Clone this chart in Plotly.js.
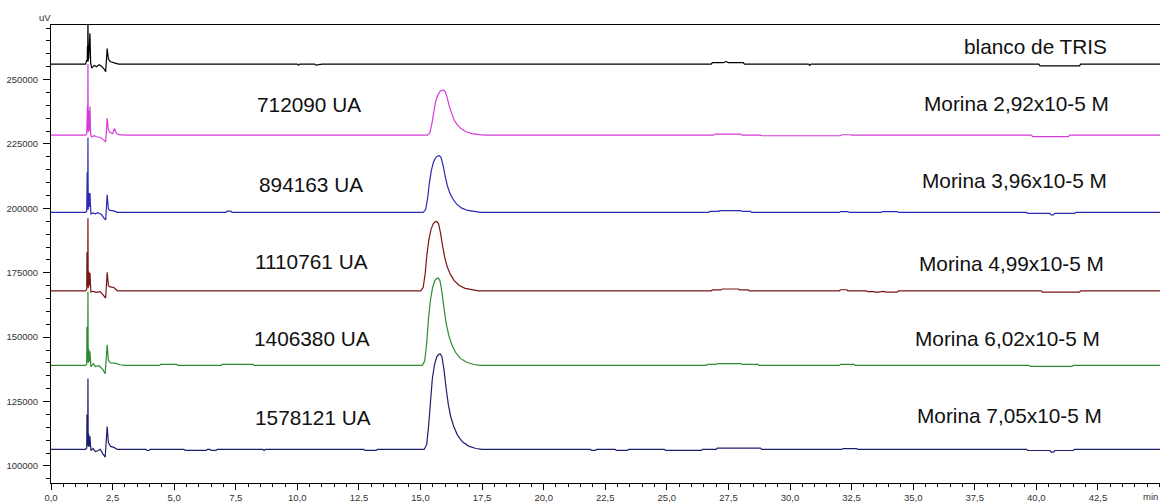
<!DOCTYPE html>
<html>
<head>
<meta charset="utf-8">
<script src="https://cdn.plot.ly/plotly-3.0.1.min.js"></script>
<style>
  html, body { margin: 0; padding: 0; background: #ffffff; }
  #chart { width: 1160px; height: 503px; }
</style>
</head>
<body>
<div id="chart"></div>
<script>
// Chromatograms (signal in uV vs. retention time in min), stacked by run.

// blanco de TRIS
const blancoT = [0, 1.40, 1.45, 1.46, 1.47, 1.48, 1.49, 1.50, 1.51, 1.52,
  1.53, 1.55, 1.58, 1.61, 1.65, 1.75, 1.85, 1.95, 2.05, 2.15,
  2.22, 2.28, 2.33, 2.40, 2.50, 2.60, 2.75, 10.0, 10.05, 10.1,
  10.7, 10.75, 11.0, 26.8, 26.85, 27.3, 27.4, 27.5, 28.1, 28.15,
  30.75, 30.8, 30.85, 40.1, 40.15, 41.75, 41.8, 45.1];
const blancoV = [256000, 256000, 257500, 262000, 257000, 263000, 257500, 275000, 257000, 262000,
  258000, 261000, 268000, 256500, 254500, 255500, 255000, 255800, 255200, 254200,
  253000, 262000, 258000, 257000, 256800, 256400, 256000, 256000, 255600, 256000,
  256000, 255600, 256000, 256000, 256600, 256600, 257000, 256600, 256600, 256000,
  256000, 255500, 256000, 256000, 255300, 255300, 256000, 256000];

// Morina 2,92x10-5 M
const m292T = [0, 1.40, 1.45, 1.46, 1.47, 1.48, 1.49, 1.50, 1.51, 1.53,
  1.55, 1.58, 1.61, 1.65, 1.75, 1.85, 2.00, 2.15, 2.22, 2.28,
  2.33, 2.40, 2.50, 2.58, 2.65, 2.75, 3.0,
  15.28, 15.38, 15.46, 15.53, 15.61, 15.70, 15.79, 15.87, 15.93, 16.00,
  16.08, 16.17, 16.26, 16.36, 16.48, 16.63, 16.83, 17.08, 17.38, 17.63,
  26.9, 26.95, 28.0, 28.05, 28.8, 28.85, 32.05, 32.1, 32.45, 32.5,
  39.8, 39.85, 41.3, 41.35, 45.1];
const m292V = [228430, 228430, 229000, 236000, 229500, 240000, 230000, 256000, 229500, 238000,
  230000, 239500, 228500, 227700, 228200, 227800, 227500, 226500, 225800, 235000,
  230500, 229400, 229000, 231000, 229200, 228600, 228430,
  228430, 229300, 232800, 237510, 241360, 243980, 245380, 245810, 245900, 245380,
  243100, 239610, 236640, 234370, 232620, 231050, 229830, 229040, 228600, 228430,
  228430, 228830, 228830, 228430, 228430, 228180, 228180, 228580, 228580, 228430,
  228430, 227830, 227830, 228430, 228430];

// Morina 3,96x10-5 M
const m396T = [0, 1.40, 1.45, 1.46, 1.47, 1.48, 1.49, 1.50, 1.51, 1.53,
  1.55, 1.58, 1.62, 1.70, 1.80, 1.90, 2.05, 2.15, 2.22, 2.28,
  2.33, 2.40, 2.55, 2.70,
  7.1, 7.15, 7.3, 7.35,
  15.11, 15.21, 15.29, 15.36, 15.44, 15.53, 15.62, 15.70, 15.76, 15.83,
  15.91, 16.00, 16.09, 16.19, 16.31, 16.46, 16.66, 16.91, 17.21, 17.46,
  26.7, 26.75, 27.1, 27.15, 28.0, 28.05, 28.4, 28.45,
  32.0, 32.05, 32.35, 32.4, 33.7, 33.75, 34.35, 34.4,
  39.6, 39.65, 40.55, 40.6, 40.7, 40.75, 41.55, 41.6, 45.1];
const m396V = [198430, 198430, 199000, 206000, 214000, 200000, 199500, 227400, 199500, 206000,
  200500, 206000, 197800, 198200, 197900, 198300, 197600, 196200, 195500, 205300,
  199800, 199200, 199000, 198430,
  198430, 198900, 198900, 198430,
  198430, 199530, 203940, 209890, 214730, 218040, 219800, 220350, 220460, 219800,
  216940, 212530, 208780, 205920, 203720, 201740, 200190, 199200, 198650, 198430,
  198430, 198800, 198800, 199100, 199100, 198800, 198800, 198430,
  198430, 198750, 198750, 198430, 198430, 198750, 198750, 198430,
  198430, 198050, 198050, 197500, 197500, 198050, 198050, 198430, 198430];

// Morina 4,99x10-5 M
const m499T = [0, 1.40, 1.45, 1.46, 1.47, 1.48, 1.49, 1.50, 1.51, 1.53,
  1.55, 1.58, 1.62, 1.70, 1.85, 2.00, 2.15, 2.22, 2.28, 2.33,
  2.40, 2.55, 2.70,
  15.01, 15.11, 15.19, 15.26, 15.34, 15.43, 15.52, 15.60, 15.66, 15.73,
  15.81, 15.90, 15.99, 16.09, 16.21, 16.36, 16.56, 16.81, 17.11, 17.36,
  26.8, 26.85, 27.2, 27.25, 27.9, 27.95, 28.3, 28.35,
  32.0, 32.05, 32.3, 32.35,
  33.1, 33.15, 33.4, 33.5, 33.8, 33.9, 34.35, 34.4,
  40.2, 40.25, 41.75, 41.8, 45.1];
const m499V = [168000, 168000, 168500, 183000, 169000, 175000, 169500, 196200, 169000, 175500,
  170000, 175000, 167500, 167800, 167400, 167700, 166000, 165200, 175200, 170000,
  169500, 169300, 168000,
  168000, 169350, 174730, 181990, 187910, 191940, 194090, 194770, 194900, 194090,
  190600, 185220, 180640, 177150, 174460, 172040, 170150, 168940, 168270, 168000,
  168000, 168350, 168350, 168700, 168700, 168350, 168350, 168000,
  168000, 168400, 168400, 168000,
  168000, 167700, 167700, 167400, 167800, 167500, 167500, 168000,
  168000, 167450, 167450, 168000, 168000];

// Morina 6,02x10-5 M
const m602T = [0, 1.40, 1.45, 1.46, 1.47, 1.48, 1.49, 1.50, 1.51, 1.53,
  1.55, 1.58, 1.62, 1.72, 1.80, 1.95, 2.10, 2.20, 2.28, 2.33,
  2.42, 2.60, 2.80, 3.0,
  4.4, 4.45, 5.1, 5.15, 6.9, 6.95, 8.2, 8.25,
  15.07, 15.17, 15.25, 15.32, 15.40, 15.49, 15.58, 15.66, 15.72, 15.79,
  15.87, 15.96, 16.05, 16.15, 16.27, 16.42, 16.62, 16.87, 17.17, 17.42,
  26.6, 26.65, 27.0, 27.05, 28.0, 28.05, 28.7, 28.75,
  32.0, 32.05, 32.6, 32.65,
  39.7, 39.75, 41.45, 41.5, 45.1];
const m602V = [139050, 139050, 139600, 154000, 140000, 146000, 140500, 167600, 140000, 145500,
  140500, 144500, 138500, 139800, 138600, 138900, 137500, 135800, 147000, 141000,
  140000, 139900, 139300, 139050,
  139050, 139400, 139400, 139050, 139050, 139400, 139400, 139050,
  139050, 140750, 147530, 156680, 164140, 169220, 171930, 172780, 172950, 171930,
  167530, 160750, 154980, 150580, 147190, 144140, 141760, 140240, 139390, 139050,
  139050, 139400, 139400, 139750, 139750, 139400, 139400, 139050,
  139050, 139400, 139400, 139050,
  139050, 138650, 138650, 139050, 139050];

// Morina 7,05x10-5 M
const m705T = [0, 1.40, 1.45, 1.46, 1.47, 1.48, 1.49, 1.50, 1.51, 1.53,
  1.55, 1.58, 1.62, 1.70, 1.80, 1.90, 2.00, 2.10, 2.20, 2.28,
  2.33, 2.42, 2.55, 2.70,
  3.85, 3.9, 3.97, 4.02, 5.4, 5.45, 6.3, 6.35, 6.45, 6.5,
  6.7, 6.75, 8.6, 8.65, 8.7, 12.7, 12.75, 13.2, 13.25,
  15.15, 15.25, 15.33, 15.40, 15.48, 15.57, 15.66, 15.74, 15.80, 15.87,
  15.95, 16.04, 16.13, 16.23, 16.35, 16.50, 16.70, 16.95, 17.25, 17.50,
  21.9, 21.95, 22.1, 22.15, 22.9, 22.95, 23.4, 23.45, 24.9, 24.95, 26.4, 26.45,
  27.0, 27.05, 28.8, 28.85,
  32.1, 32.15, 32.7, 32.75,
  39.6, 39.65, 40.55, 40.6, 40.7, 40.75, 41.5, 41.55, 45.1];
const m705V = [106410, 106410, 107000, 120000, 107500, 113000, 108000, 134000, 107500, 112500,
  107500, 111500, 106000, 106800, 105600, 105900, 106500, 104800, 103400, 115300,
  109000, 107600, 107200, 106410,
  106410, 106000, 106000, 106410, 106410, 106050, 106050, 106410, 106410, 106050,
  106050, 106410, 106410, 106000, 106410, 106410, 106050, 106050, 106410,
  106410, 108270, 115690, 125700, 133860, 139430, 142400, 143330, 143510, 142400,
  137570, 130150, 123850, 119020, 115310, 111980, 109380, 107710, 106780, 106410,
  106410, 106050, 106050, 106410, 106410, 106050, 106050, 106410, 106410, 106050, 106050, 106410,
  106410, 106900, 106900, 106410,
  106410, 106750, 106750, 106410,
  106410, 106000, 106000, 105400, 105400, 106000, 106000, 106410, 106410];

// Run names and integrated peak areas
const runNames = ["blanco de TRIS", "Morina 2,92x10-5 M", "Morina 3,96x10-5 M",
  "Morina 4,99x10-5 M", "Morina 6,02x10-5 M", "Morina 7,05x10-5 M"];
const peakAreas = ["712090 UA", "894163 UA", "1110761 UA", "1406380 UA", "1578121 UA"];

// Axis ticks
const xTickVals = [0, 2.5, 5, 7.5, 10, 12.5, 15, 17.5, 20, 22.5, 25, 27.5, 30, 32.5, 35, 37.5, 40, 42.5];
const xTickText = ["0,0", "2,5", "5,0", "7,5", "10,0", "12,5", "15,0", "17,5", "20,0", "22,5",
  "25,0", "27,5", "30,0", "32,5", "35,0", "37,5", "40,0", "42,5"];
const yTickVals = [100000, 125000, 150000, 175000, 200000, 225000, 250000];
const yTickText = ["100000", "125000", "150000", "175000", "200000", "225000", "250000"];

const series = [
  { t: blancoT, v: blancoV, color: "#000000" },
  { t: m292T, v: m292V, color: "#d63cd6" },
  { t: m396T, v: m396V, color: "#2a2ab4" },
  { t: m499T, v: m499V, color: "#7a1616" },
  { t: m602T, v: m602V, color: "#2f8a2f" },
  { t: m705T, v: m705V, color: "#1e1e6e" }
];

const traces = series.map(s => ({
  type: "scatter",
  mode: "lines",
  x: s.t,
  y: s.v,
  line: { color: s.color, width: 1.2 },
  hoverinfo: "skip",
  showlegend: false
}));

const labelFont = { family: "Liberation Sans, Arial, sans-serif", size: 20.8, color: "#111111" };

// label anchor points (min, uV)
const namePos = [[39.95, 262800], [39.21, 240600], [39.13, 210750], [39.01, 178500], [38.81, 149350], [38.89, 119430]];
const areaPos = [[10.46, 240280], [10.54, 209200], [10.58, 179270], [10.58, 149350], [10.62, 118650]];

const annotations = [];
runNames.forEach((txt, i) => {
  annotations.push({ xref: "x", yref: "y", x: namePos[i][0], y: namePos[i][1], text: txt,
    showarrow: false, xanchor: "center", yanchor: "middle", font: labelFont });
});
peakAreas.forEach((txt, i) => {
  annotations.push({ xref: "x", yref: "y", x: areaPos[i][0], y: areaPos[i][1], text: txt,
    showarrow: false, xanchor: "center", yanchor: "middle", font: labelFont });
});
annotations.push({ xref: "paper", yref: "paper", x: 0, y: 1, text: "uV", showarrow: false,
  xanchor: "center", yanchor: "bottom", xshift: -6, yshift: 0,
  font: { family: "Liberation Sans, Arial, sans-serif", size: 9.5, color: "#333333" } });
annotations.push({ xref: "paper", yref: "paper", x: 1, y: 0, text: "min", showarrow: false,
  xanchor: "right", yanchor: "top", xshift: 0, yshift: -6,
  font: { family: "Liberation Sans, Arial, sans-serif", size: 9.5, color: "#333333" } });

const tickFont = { family: "Liberation Sans, Arial, sans-serif", size: 9.5, color: "#333333" };

const layout = {
  width: 1160,
  height: 503,
  margin: { l: 51, r: 0, t: 25, b: 20, pad: 0 },
  paper_bgcolor: "#ffffff",
  plot_bgcolor: "#ffffff",
  showlegend: false,
  xaxis: {
    range: [0, 45.02],
    showgrid: false,
    zeroline: false,
    showline: true,
    linecolor: "#000000",
    linewidth: 1,
    mirror: true,
    ticks: "outside",
    ticklen: 6,
    tickcolor: "#000000",
    tickmode: "array",
    tickvals: xTickVals,
    ticktext: xTickText,
    tickfont: tickFont,
    minor: { dtick: 0.5, tick0: 0, ticks: "outside", ticklen: 3, tickcolor: "#000000", showgrid: false }
  },
  yaxis: {
    range: [93390, 271180],
    showgrid: false,
    zeroline: false,
    showline: true,
    linecolor: "#000000",
    linewidth: 1,
    ticks: "outside",
    ticklen: 7,
    tickcolor: "#000000",
    tickmode: "array",
    tickvals: yTickVals,
    ticktext: yTickText,
    tickfont: tickFont,
    ticklabelstandoff: 3,
    minor: { dtick: 5000, tick0: 0, ticks: "outside", ticklen: 4, tickcolor: "#000000", showgrid: false }
  },
  annotations: annotations
};

Plotly.newPlot("chart", traces, layout, { displayModeBar: false, staticPlot: true });
</script>
</body>
</html>
